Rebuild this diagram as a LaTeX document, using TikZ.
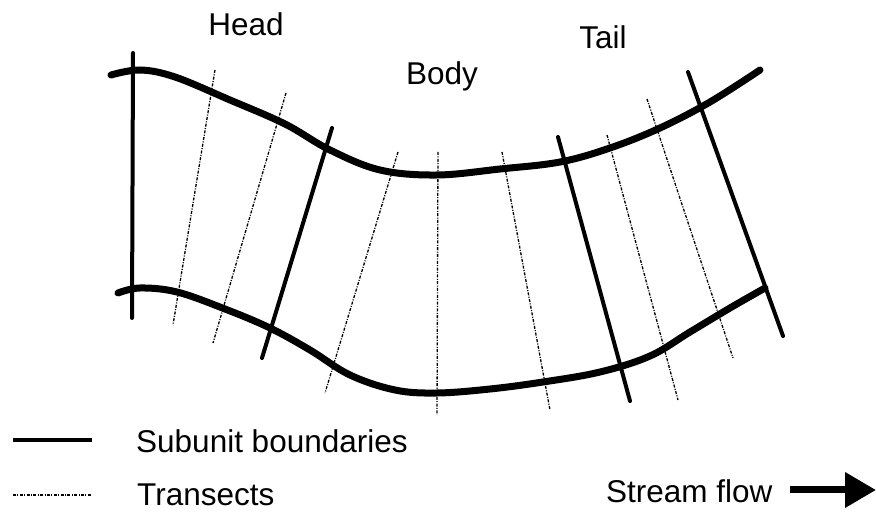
\documentclass[tikz,border=0pt]{standalone}
\usepackage{fontspec}
\setmainfont{Liberation Sans}
\usetikzlibrary{arrows.meta}
\tikzset{
  bank/.style={line width=7pt, line cap=round, line join=round},
  boundary/.style={line width=4pt, line cap=round},
  transect/.style={line width=1.3pt, dash pattern=on 3pt off 1.4pt on 1pt off 1.4pt},
  lbl/.style={font=\fontsize{31.5}{34}\selectfont, inner sep=0pt},
}
\begin{document}
\begin{tikzpicture}[x=1pt,y=-1pt]
\useasboundingbox (0,0) rectangle (876,518);
% banks
\draw[bank] plot[smooth, tension=0.6] coordinates {(111,75) (140,70) (175,77) (230,100) (285,124) (330,150) (380,170) (437,175) (500,169) (560,162) (610,148) (660,128) (710,102) (760,70)};
\draw[bank] plot[smooth, tension=0.6] coordinates {(118,293) (140,288) (177,292) (225,309) (270,328) (310,350) (350,375) (395,390) (437,393) (490,389) (543,382) (600,372) (650,356) (690,332) (730,308) (765,288)};
% subunit boundaries
\coordinate (b1t) at (133,53);  \coordinate (b1b) at (132,318);
\coordinate (b2t) at (332,128); \coordinate (b2b) at (262,358);
\coordinate (b3t) at (558,137); \coordinate (b3b) at (630,401);
\coordinate (b4t) at (688,72);  \coordinate (b4b) at (783,336);
\draw[boundary] (b1t) -- (b1b);
\draw[boundary] (b2t) -- (b2b);
\draw[boundary] (b3t) -- (b3b);
\draw[boundary] (b4t) -- (b4b);
% transects
\coordinate (t1t) at (215,70);  \coordinate (t1b) at (173,325);
\coordinate (t2t) at (286,93);  \coordinate (t2b) at (213,343);
\coordinate (t3t) at (398,152); \coordinate (t3b) at (325,393);
\coordinate (t4t) at (438,152); \coordinate (t4b) at (437,415);
\coordinate (t5t) at (502,152); \coordinate (t5b) at (550,410);
\coordinate (t6t) at (607,135); \coordinate (t6b) at (678,400);
\coordinate (t7t) at (647,99);  \coordinate (t7b) at (733,358);
\foreach \i in {1,...,7} \draw[transect] (t\i t) -- (t\i b);
% labels
\node[lbl, anchor=base] (head) at (246,35.5) {Head};
\node[lbl, anchor=base] (body) at (442,85) {Body};
\node[lbl, anchor=base] (tail) at (603,49) {Tail};
% legend
\coordinate (ls1) at (13,440); \coordinate (ls2) at (92,440);
\draw[line width=4.5pt] (ls1) -- (ls2);
\coordinate (lt1) at (13,495); \coordinate (lt2) at (92,495);
\draw[transect] (lt1) -- (lt2);
\node[lbl, anchor=base west] (lgs) at (136,453) {Subunit boundaries};
\node[lbl, anchor=base west] (lgt) at (137,505) {Transects};
\node[lbl, anchor=base west] (sf) at (606,503) {Stream flow};
\coordinate (a1) at (790,490); \coordinate (a2) at (876,490);
\draw[line width=7pt, -{Triangle[length=31pt,width=34pt]}] (a1) -- (a2);
\end{tikzpicture}
\end{document}
